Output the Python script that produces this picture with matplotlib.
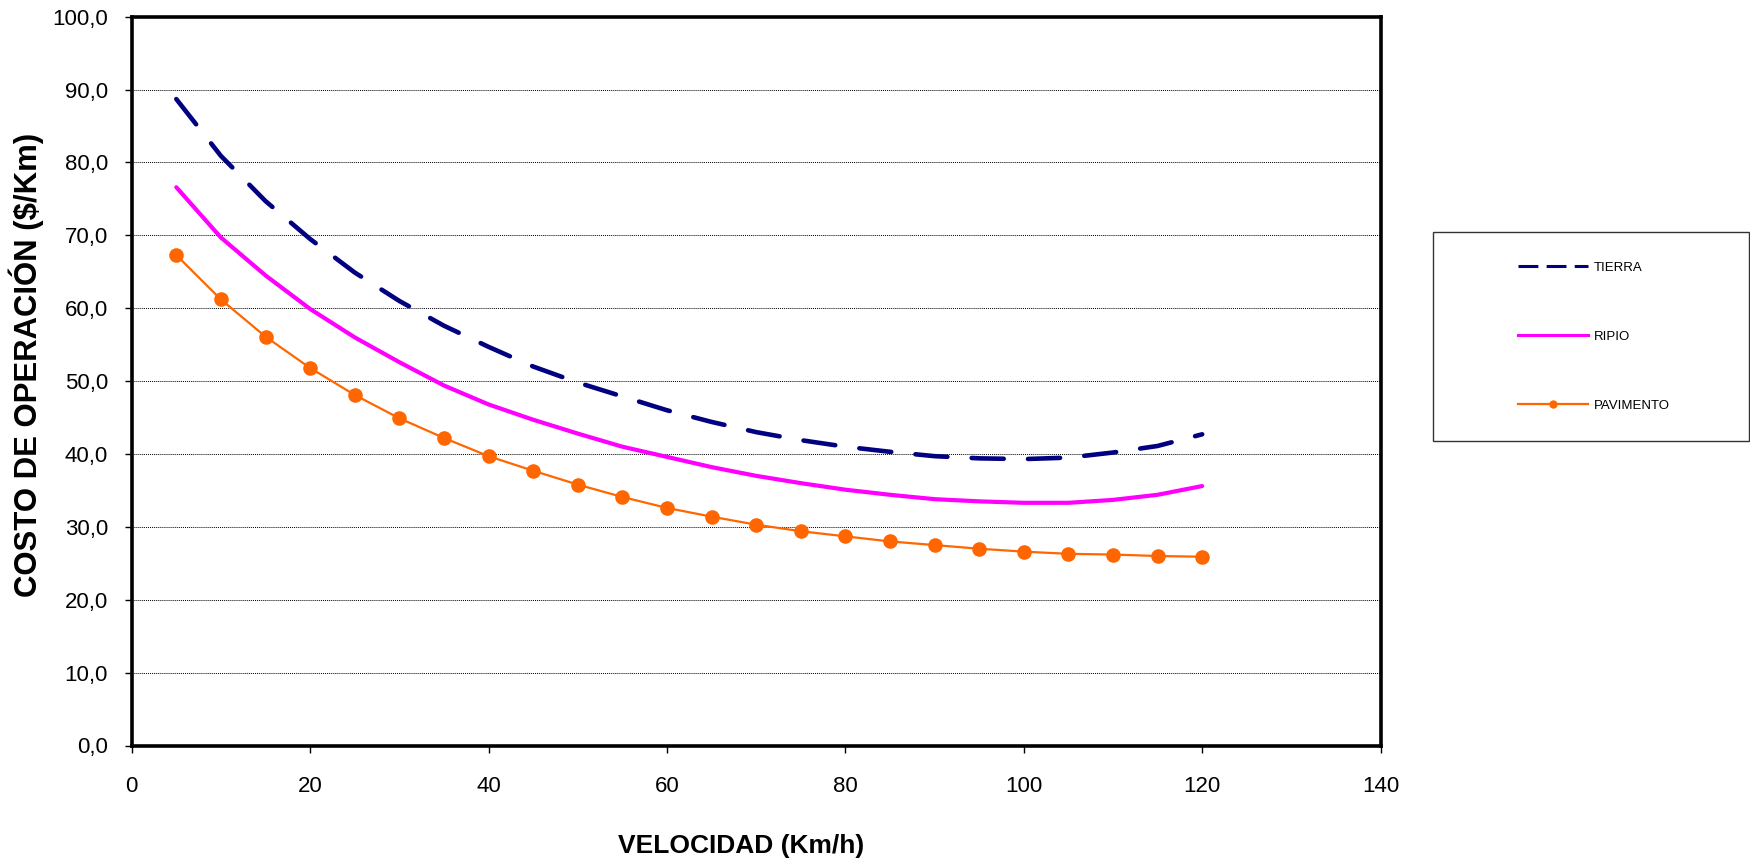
import matplotlib
matplotlib.use("Agg")
import matplotlib.pyplot as plt
from matplotlib.lines import Line2D
from matplotlib.patches import Rectangle
from matplotlib.ticker import FuncFormatter

plt.rcParams['font.family'] = ['Liberation Sans', 'DejaVu Sans']

velocidad = [5, 10, 15, 20, 25, 30, 35, 40, 45, 50, 55, 60,
             65, 70, 75, 80, 85, 90, 95, 100, 105, 110, 115, 120]
tierra = [88.7, 80.9, 74.7, 69.5, 64.9, 61.0, 57.6, 54.7, 52.0, 49.8, 47.9, 46.0,
          44.4, 43.0, 41.9, 41.0, 40.3, 39.7, 39.4, 39.3, 39.5, 40.2, 41.1, 42.7]
ripio = [76.6, 69.7, 64.5, 59.9, 56.0, 52.6, 49.4, 46.8, 44.7, 42.8, 41.0, 39.6,
         38.2, 37.0, 36.0, 35.1, 34.4, 33.8, 33.5, 33.3, 33.3, 33.7, 34.4, 35.6]
pavimento = [67.3, 61.2, 56.1, 51.8, 48.1, 44.9, 42.2, 39.7, 37.7, 35.8, 34.1, 32.6,
             31.4, 30.3, 29.4, 28.7, 28.0, 27.5, 27.0, 26.6, 26.3, 26.2, 26.0, 25.9]
series_names = ['TIERRA', 'RIPIO', 'PAVIMENTO']
x_ticks = [0, 20, 40, 60, 80, 100, 120, 140]
y_ticks = [0, 10, 20, 30, 40, 50, 60, 70, 80, 90, 100]
x_label = 'VELOCIDAD (Km/h)'
y_label = 'COSTO DE OPERACIÓN ($/Km)'

W, H = 1750, 861
fig = plt.figure(figsize=(W / 100, H / 100), dpi=100)
L, R, T, B = 131.7, 1380.6, 16.7, 745.5
ax = fig.add_axes([L / W, 1 - B / H, (R - L) / W, (B - T) / H])

c_tierra = '#000080'
c_ripio = '#FF00FF'
c_pav = '#FF6600'

ax.plot(velocidad, tierra, color=c_tierra, lw=3.3, dashes=(7.0, 5.3),
        dash_capstyle='round', solid_capstyle='round', zorder=3)
ax.plot(velocidad, ripio, color=c_ripio, lw=3.0, solid_capstyle='round',
        solid_joinstyle='round', zorder=3)
ax.plot(velocidad, pavimento, color=c_pav, lw=1.6, marker='o', markersize=10.5,
        markeredgewidth=0, zorder=4)

ax.set_xlim(0, 140)
ax.set_ylim(0, 100)
ax.set_xticks(x_ticks)
ax.set_yticks(y_ticks)
ax.yaxis.set_major_formatter(FuncFormatter(lambda v, p: f"{v:.1f}".replace('.', ',')))
ax.tick_params(axis='x', direction='out', length=5, width=1, pad=17, labelsize=16, colors='black')
ax.tick_params(axis='y', direction='out', length=5, width=1, pad=12, labelsize=16, colors='black')

for s in ax.spines.values():
    s.set_linewidth(2.6)
    s.set_color('black')

ax.set_axisbelow(True)
ax.yaxis.grid(True, color='black', lw=0.7, ls=(0, (1, 1)))
ax.xaxis.grid(False)

fig.text(741 / W, 1 - 846 / H, x_label, ha='center', va='center',
         fontsize=19, fontweight='bold')
fig.text(26 / W, 1 - 364.5 / H, y_label, ha='center', va='center',
         rotation=90, fontsize=22.4, fontweight='bold')

# legend frame
fig.patches.append(Rectangle((1433 / W, 1 - 441 / H), (1749 - 1433) / W, 209 / H,
                             transform=fig.transFigure, fill=False,
                             edgecolor='#333333', lw=1.0))
handles = [
    Line2D([], [], color=c_tierra, lw=2.2, dashes=(6.5, 2.7), dash_capstyle='butt'),
    Line2D([], [], color=c_ripio, lw=2.2),
    Line2D([], [], color=c_pav, lw=1.6, marker='o', markersize=6, markeredgewidth=0),
]
fig.legend(handles, series_names, loc='center left',
           bbox_to_anchor=(1511 / W, 1 - 336.7 / H), frameon=False,
           fontsize=9.5, borderpad=0, handlelength=5.3, handletextpad=0.5,
           labelspacing=4.32, numpoints=1)

fig.savefig('out.png', dpi=100)
